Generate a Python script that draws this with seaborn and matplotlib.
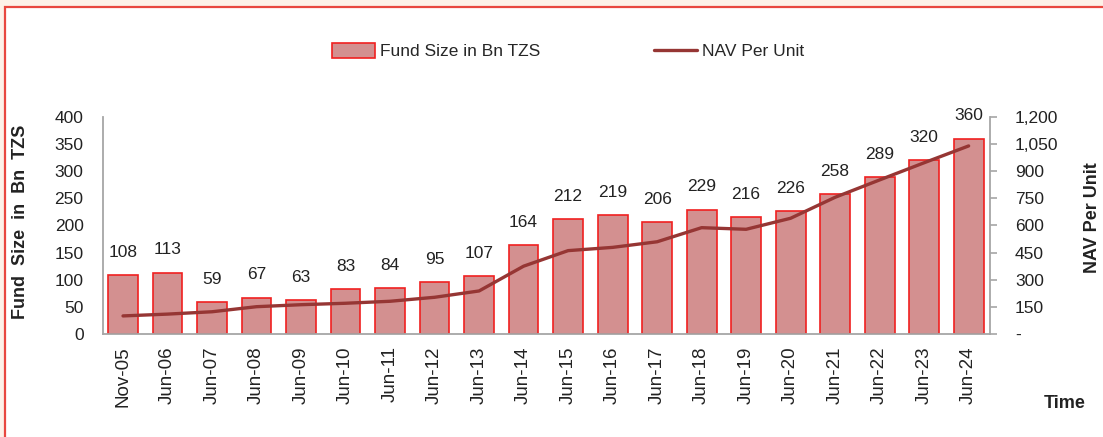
import numpy as np
import pandas as pd
import matplotlib
matplotlib.use('Agg')
import matplotlib.pyplot as plt
import seaborn as sns
from matplotlib.patches import Patch, Rectangle
from matplotlib.lines import Line2D
from matplotlib.ticker import FuncFormatter, MultipleLocator

# Chart data
periods = ['Nov-05', 'Jun-06', 'Jun-07', 'Jun-08', 'Jun-09', 'Jun-10', 'Jun-11', 'Jun-12',
           'Jun-13', 'Jun-14', 'Jun-15', 'Jun-16', 'Jun-17', 'Jun-18', 'Jun-19', 'Jun-20',
           'Jun-21', 'Jun-22', 'Jun-23', 'Jun-24']
fund_size = [108, 113, 59, 67, 63, 83, 84, 95, 107, 164, 212, 219, 206, 229, 216, 226,
             258, 289, 320, 360]
nav_per_unit = [100, 110, 123, 151, 162, 170, 181, 203, 238, 375, 461, 479, 510, 588,
                579, 640, 756, 852, 947, 1040]

bar_fill = '#D39090'
bar_edge = '#F02020'
line_col = '#963634'
text_col = '#222222'
grey = '#A6A6A6'

sns.set_style('white')
plt.rcParams['font.family'] = ['Liberation Sans', 'DejaVu Sans']
plt.rcParams['font.size'] = 12.5

df = pd.DataFrame({'period': periods, 'fund': fund_size, 'nav': nav_per_unit})

fig = plt.figure(figsize=(11.03, 4.37), dpi=100, facecolor='#FDF1E8')
# white panel with a red frame (only top and left edges visible)
fig.patches.append(Rectangle((5 / 1103, -0.1), 1.2, 1.1 - 7 / 437, transform=fig.transFigure,
                             facecolor='white', edgecolor='#E8473F', lw=1.6, zorder=-10))

ax = fig.add_axes([103 / 1103, 1 - 334 / 437, 887 / 1103, 217 / 437])
ax.set_facecolor('none')

sns.barplot(data=df, x='period', y='fund', ax=ax, color=bar_fill, saturation=1,
            edgecolor=bar_edge, linewidth=1.2, width=0.67)
ax.bar_label(ax.containers[0], padding=11, fontsize=12.5, color=text_col)

ax.set_ylim(0, 400)
ax.set_xlim(-0.45, 19.48)
ax.yaxis.set_major_locator(MultipleLocator(50))
ax.tick_params(axis='y', length=0, pad=14, labelsize=12.5, colors=text_col)
ax.tick_params(axis='x', length=0, pad=9, labelsize=13.5, colors=text_col, rotation=90)
for s in ['top', 'right']:
    ax.spines[s].set_visible(False)
for s in ['left', 'bottom']:
    ax.spines[s].set_color(grey)
    ax.spines[s].set_linewidth(1.3)
ax.set_xlabel('')
ax.set_ylabel('Fund  Size  in  Bn  TZS', fontweight='bold', fontsize=13, color=text_col)
ax.yaxis.set_label_coords(-0.0835, 0.516)

ax2 = ax.twinx()
sns.lineplot(x=np.arange(len(periods)), y=nav_per_unit, ax=ax2, color=line_col, lw=2.4)
ax2.set_ylim(0, 1200)
ax2.yaxis.set_major_locator(MultipleLocator(150))
ax2.yaxis.set_major_formatter(FuncFormatter(lambda v, p: '-' if v == 0 else f'{v:,.0f}'))
ax2.tick_params(axis='y', length=5, width=1.2, pad=13, labelsize=12.5, colors=text_col)
ax2.tick_params(axis='y', color=grey)
for s in ['top', 'left', 'bottom']:
    ax2.spines[s].set_visible(False)
ax2.spines['right'].set_color(grey)
ax2.spines['right'].set_linewidth(1.3)
ax2.set_ylabel('NAV Per Unit', fontweight='bold', fontsize=13, color=text_col)
ax2.yaxis.set_label_coords(1.106, 0.535)

fig.text(1065 / 1103, 1 - 404 / 437, 'Time', fontweight='bold', fontsize=13,
         color=text_col, ha='center', va='center')

handles = [Patch(facecolor=bar_fill, edgecolor=bar_edge, lw=1.2),
           Line2D([0], [0], color=line_col, lw=2.4)]
fig.legend(handles, ['Fund Size in Bn TZS', 'NAV Per Unit'], loc='center',
           bbox_to_anchor=(0.515, 0.883), ncol=2, frameon=False, fontsize=12.5,
           handlelength=2.5, handleheight=1.0, handletextpad=0.3, columnspacing=6.5)

fig.savefig('out.png', dpi=100, facecolor=fig.get_facecolor())
